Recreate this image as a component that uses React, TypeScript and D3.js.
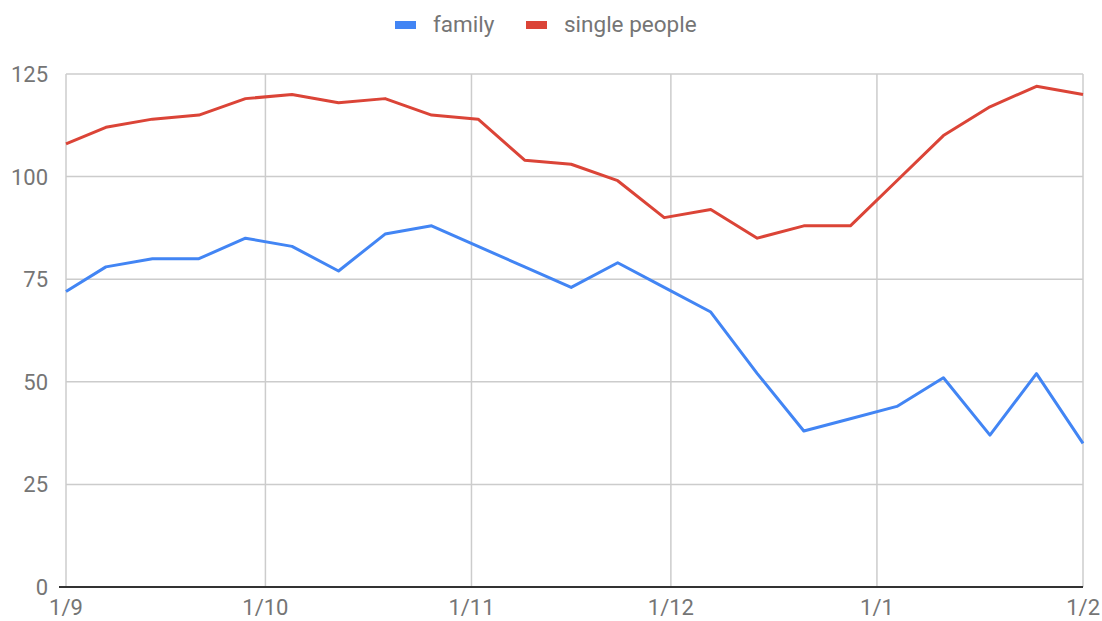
import React, { useEffect, useRef } from 'react';
import * as d3 from 'd3';

const dates = [
  '2018-09-01', '2018-09-07', '2018-09-14', '2018-09-21', '2018-09-28',
  '2018-10-05', '2018-10-12', '2018-10-19', '2018-10-26', '2018-11-02',
  '2018-11-09', '2018-11-16', '2018-11-23', '2018-11-30', '2018-12-07',
  '2018-12-14', '2018-12-21', '2018-12-28', '2019-01-04', '2019-01-11',
  '2019-01-18', '2019-01-25', '2019-02-01',
];
const family = [72, 78, 80, 80, 85, 83, 77, 86, 88, 83, 78, 73, 79, 73, 67, 52, 38, 41, 44, 51, 37, 52, 35];
const singlePeople = [108, 112, 114, 115, 119, 120, 118, 119, 115, 114, 104, 103, 99, 90, 92, 85, 88, 88, 99, 110, 117, 122, 120];
const yTicks = [0, 25, 50, 75, 100, 125];
const xTicks = ['2018-09-01', '2018-10-01', '2018-11-01', '2018-12-01', '2019-01-01', '2019-02-01'];

const seriesNames = ['family', 'single people'];
const colors = ['#4285f4', '#db4437'];

export default function App() {
  const ref = useRef<SVGSVGElement>(null);

  useEffect(() => {
    const width = 1102, height = 621;
    const margin = { top: 74, right: 19, bottom: 34, left: 66 };
    const parse = d3.timeParse('%Y-%m-%d');
    const fontFamily = 'Roboto, sans-serif';

    const svg = d3.select(ref.current);
    svg.selectAll('*').remove();

    const x = d3
      .scaleTime()
      .domain([parse(xTicks[0])!, parse(xTicks[xTicks.length - 1])!])
      .range([margin.left, width - margin.right]);
    const y = d3
      .scaleLinear()
      .domain([0, 125])
      .range([height - margin.bottom, margin.top]);

    // horizontal grid + y labels
    svg
      .append('g')
      .selectAll('line')
      .data(yTicks.filter(t => t !== 0))
      .enter()
      .append('line')
      .attr('x1', margin.left)
      .attr('x2', width - margin.right)
      .attr('y1', d => y(d))
      .attr('y2', d => y(d))
      .attr('stroke', '#cccccc')
      .attr('stroke-width', 1.5);

    svg
      .append('g')
      .selectAll('text')
      .data(yTicks)
      .enter()
      .append('text')
      .attr('x', 48)
      .attr('y', d => y(d))
      .attr('dy', '0.36em')
      .attr('text-anchor', 'end')
      .style('font-family', fontFamily)
      .style('font-size', '22px')
      .attr('fill', '#757575')
      .text(d => d);

    // vertical grid + x labels
    const fmt = d3.timeFormat('%-d/%-m');
    svg
      .append('g')
      .selectAll('line')
      .data(xTicks.map(d => parse(d)!))
      .enter()
      .append('line')
      .attr('x1', d => x(d))
      .attr('x2', d => x(d))
      .attr('y1', y(125))
      .attr('y2', y(0))
      .attr('stroke', '#cccccc')
      .attr('stroke-width', 1.5);

    svg
      .append('g')
      .selectAll('text')
      .data(xTicks.map(d => parse(d)!))
      .enter()
      .append('text')
      .attr('x', d => x(d))
      .attr('y', 615)
      .attr('text-anchor', (d, i) => (i === xTicks.length - 1 ? 'end' : 'middle'))
      .attr('dx', (d, i) => (i === xTicks.length - 1 ? 17 : 0))
      .style('font-family', fontFamily)
      .style('font-size', '22px')
      .attr('fill', '#757575')
      .text(d => fmt(d));

    // baseline
    svg
      .append('line')
      .attr('x1', margin.left - 7)
      .attr('x2', width - margin.right)
      .attr('y1', y(0))
      .attr('y2', y(0))
      .attr('stroke', '#333333')
      .attr('stroke-width', 2);

    const line = d3
      .line<number>()
      .x((d, i) => x(parse(dates[i])!))
      .y(d => y(d));

    [family, singlePeople].forEach((values, i) => {
      svg
        .append('path')
        .datum(values)
        .attr('fill', 'none')
        .attr('stroke', colors[i])
        .attr('stroke-width', 3)
        .attr('stroke-linejoin', 'round')
        .attr('d', line);
    });

    // legend
    const legendX = [395, 526];
    const legend = svg
      .append('g')
      .selectAll('g')
      .data(seriesNames)
      .enter()
      .append('g')
      .attr('transform', (d, i) => `translate(${legendX[i]}, 0)`);
    legend
      .append('rect')
      .attr('x', 0)
      .attr('y', 21)
      .attr('width', 21)
      .attr('height', 8)
      .attr('fill', (d, i) => colors[i]);
    legend
      .append('text')
      .attr('x', 38)
      .attr('y', 24)
      .attr('dy', '0.36em')
      .style('font-family', fontFamily)
      .style('font-size', '22.5px')
      .attr('fill', '#757575')
      .text(d => d);
  }, []);

  return (
    <div style={{ position: 'absolute', left: 0, top: 0 }}>
      <svg ref={ref} width={1102} height={621} style={{ display: 'block', background: '#fff' }} />
    </div>
  );
}
